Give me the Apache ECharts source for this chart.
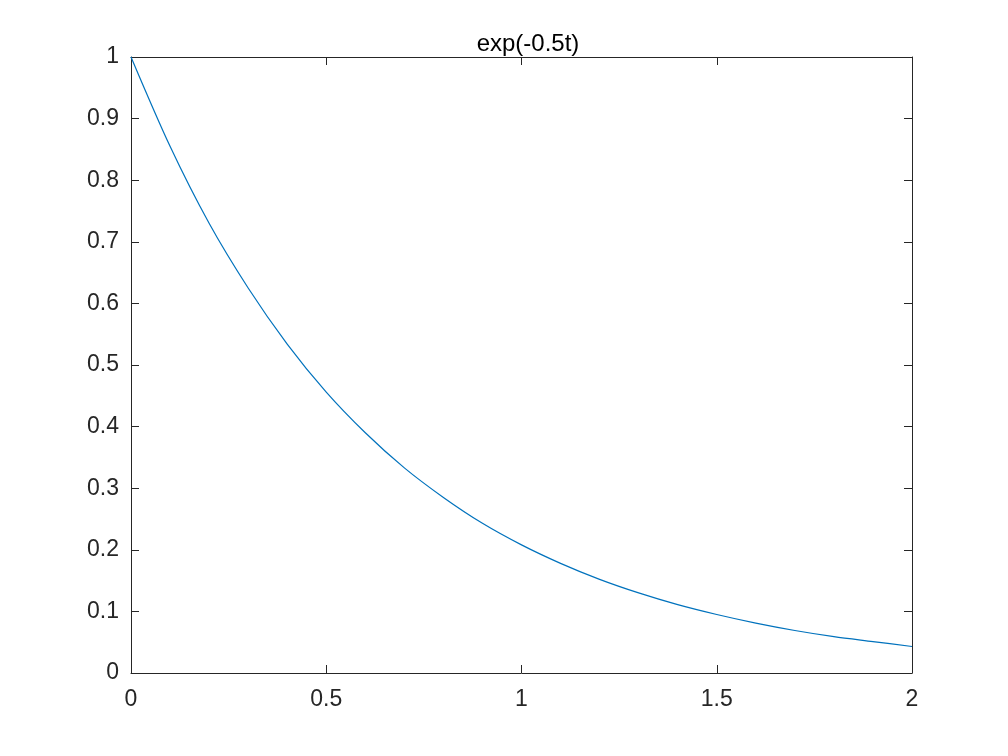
<!DOCTYPE html>
<html>
<head>
<meta charset="utf-8">
<script src="https://cdn.jsdelivr.net/npm/echarts@6/dist/echarts.min.js"></script>
<style>
html,body{margin:0;padding:0;background:#fff;}
#c{width:1008px;height:756px;}
</style>
</head>
<body>
<div id="c"></div>
<script>
const titleText = 'exp(-0.5t)';
const tValues = [0, 0.1, 0.2, 0.3, 0.4, 0.5, 0.6, 0.7, 0.8, 0.9, 1.0, 1.1, 1.2, 1.3, 1.4, 1.5, 1.6, 1.7, 1.8, 1.9, 2.0];
const yValues = [1.0, 0.855, 0.73, 0.625, 0.534, 0.456, 0.39, 0.333, 0.285, 0.243, 0.208, 0.178, 0.152, 0.13, 0.111, 0.095, 0.081, 0.069, 0.059, 0.051, 0.043];

const chart = echarts.init(document.getElementById('c'));
const axisColor = '#262626';
const font = '"Liberation Sans", Arial, sans-serif';
const fs = 23;
const baseAxis = {
  type: 'value',
  axisLine: {show: true, onZero: false, lineStyle: {color: axisColor, width: 1}},
  axisTick: {show: true, inside: true, length: 8, lineStyle: {color: axisColor}},
  splitLine: {show: false},
  axisLabel: {color: axisColor, fontSize: fs, fontFamily: font}
};
chart.setOption({
  animation: false,
  backgroundColor: '#fff',
  title: {
    text: titleText, left: 523, top: 27, textAlign: 'center',
    textStyle: {fontSize: 24, fontWeight: 'normal', color: '#000', fontFamily: font}
  },
  grid: {left: 131, right: 96, top: 57, bottom: 83},
  xAxis: [
    Object.assign({}, baseAxis, {min: 0, max: 2, interval: 0.5, position: 'bottom',
      axisLabel: Object.assign({}, baseAxis.axisLabel, {margin: 15})}),
    Object.assign({}, baseAxis, {min: 0, max: 2, interval: 0.5, position: 'top',
      axisLabel: {show: false}})
  ],
  yAxis: [
    Object.assign({}, baseAxis, {min: 0, max: 1, interval: 0.1, position: 'left',
      axisLabel: Object.assign({}, baseAxis.axisLabel, {margin: 12})}),
    Object.assign({}, baseAxis, {min: 0, max: 1, interval: 0.1, position: 'right',
      axisLabel: {show: false}})
  ],
  series: [{
    type: 'line',
    data: tValues.map((t, i) => [t, yValues[i]]),
    showSymbol: false,
    smooth: 0.3,
    lineStyle: {color: '#0072BD', width: 1.2},
    clip: false
  }]
});
</script>
</body>
</html>
